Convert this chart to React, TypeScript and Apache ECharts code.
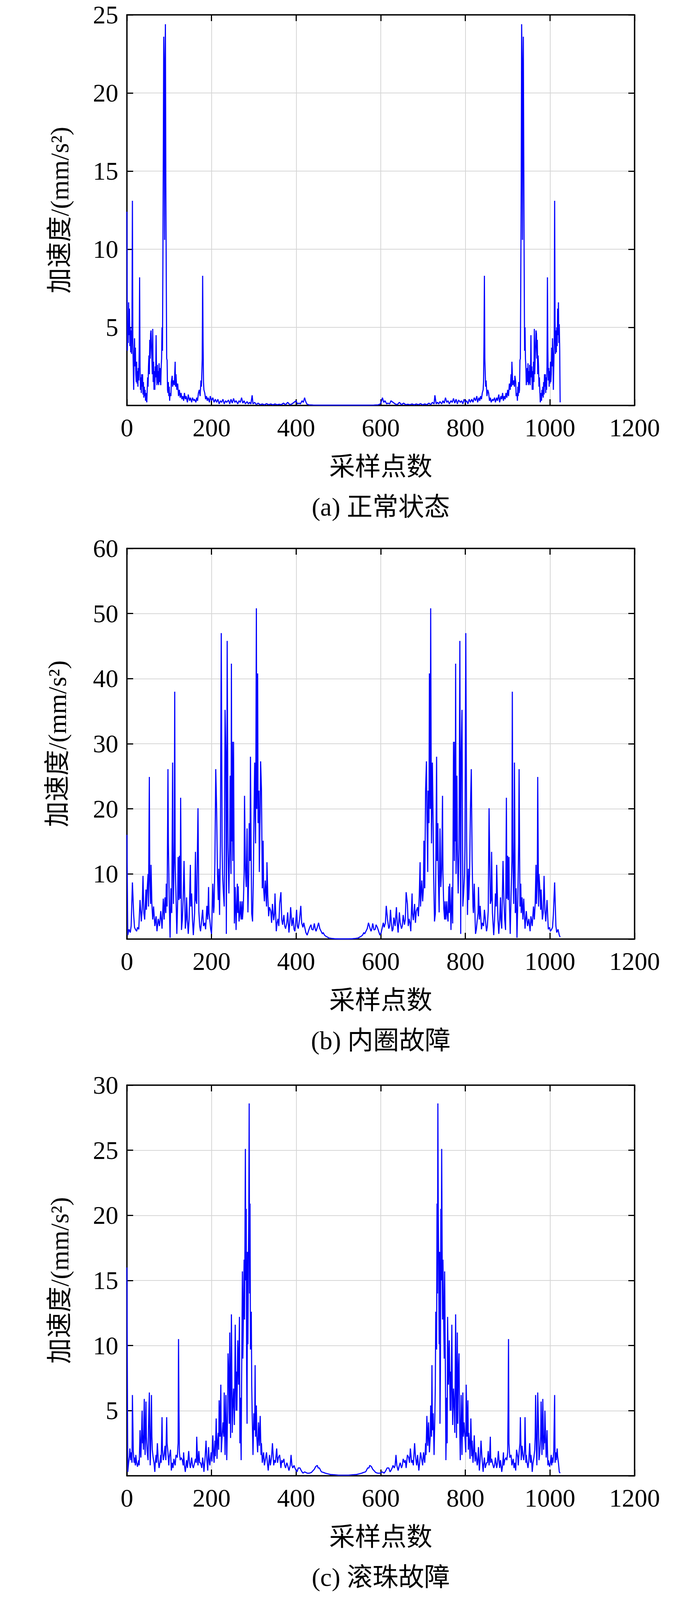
import React, { useEffect, useRef } from 'react';
import * as echarts from 'echarts';

// spectrum magnitude, first half (bin, value); right half is the mirror image
const normalHalf: [number, number][] = [
  [0, 12.4], [1, 3.5], [2, 5.2], [3, 4.0], [4, 6.6], [5, 4.5], [6, 6.2], [7, 3.8], [8, 5.0], [9, 3.4],
  [10, 4.8], [11, 3.3], [12, 5.5], [13, 13.1], [14, 4.0], [15, 2.5], [16, 1.0], [17, 3.0], [18, 4.3], [19, 2.5],
  [20, 3.7], [21, 2.0], [22, 1.5], [23, 2.8], [24, 1.4], [25, 2.2], [26, 1.2], [27, 2.4], [28, 1.6], [29, 3.5],
  [30, 8.2], [31, 2.5], [32, 1.0], [33, 1.8], [34, 0.8], [35, 2.0], [36, 1.2], [37, 2.0], [38, 0.7], [39, 1.5],
  [40, 0.5], [41, 1.2], [42, 0.6], [43, 1.0], [44, 0.3], [45, 0.8], [46, 0.4], [47, 0.2], [48, 1.0], [49, 1.8],
  [50, 1.2], [51, 2.5], [52, 3.2], [53, 2.0], [54, 4.2], [55, 3.0], [56, 4.6], [57, 4.8], [58, 3.8], [59, 3.0],
  [60, 2.0], [61, 4.9], [62, 1.5], [63, 2.8], [64, 1.0], [65, 2.2], [66, 1.0], [67, 2.5], [68, 1.8], [69, 4.5],
  [70, 2.0], [71, 1.3], [72, 2.6], [73, 1.4], [74, 2.2], [75, 1.3], [76, 2.7], [77, 1.5], [78, 2.4], [79, 1.6],
  [80, 1.3], [81, 2.5], [82, 3.0], [83, 5.0], [84, 3.5], [85, 8.9], [86, 16.0], [87, 23.6], [88, 20.0], [89, 10.6],
  [90, 22.0], [91, 24.4], [92, 14.0], [93, 8.2], [94, 3.0], [95, 2.9], [96, 1.0], [97, 0.8], [98, 1.5], [99, 0.6],
  [100, 1.2], [101, 0.3], [102, 0.8], [104, 0.6], [105, 1.5], [107, 1.9], [108, 1.2], [110, 1.6], [112, 1.3], [114, 2.8],
  [115, 1.2], [116, 2.0], [118, 1.0], [120, 1.4], [122, 0.6], [124, 1.0], [126, 0.5], [128, 0.8], [130, 0.4], [132, 0.6],
  [134, 0.3], [136, 0.8], [138, 0.4], [140, 0.6], [143, 0.2], [145, 0.7], [148, 0.3], [150, 0.5], [153, 0.2], [155, 0.5],
  [158, 0.3], [160, 0.4], [163, 0.2], [165, 0.5], [167, 0.3], [169, 0.8], [171, 1.0], [173, 0.6], [175, 1.6], [176, 1.2],
  [177, 2.0], [178, 3.0], [179, 8.3], [180, 4.0], [181, 1.5], [182, 1.0], [184, 0.8], [186, 0.4], [188, 0.6], [190, 0.3],
  [192, 0.5], [195, 0.2], [197, 0.6], [200, 0.3], [203, 0.5], [206, 0.2], [209, 0.4], [212, 0.2], [215, 0.4], [218, 0.1],
  [221, 0.3], [224, 0.2], [227, 0.4], [230, 0.1], [233, 0.3], [236, 0.2], [240, 0.35], [243, 0.1], [246, 0.4], [249, 0.15],
  [252, 0.45], [255, 0.2], [258, 0.3], [262, 0.1], [265, 0.3], [268, 0.2], [271, 0.5], [274, 0.15], [277, 0.3], [280, 0.1],
  [284, 0.25], [287, 0.1], [290, 0.2], [293, 0.1], [296, 0.65], [298, 0.1], [302, 0.2], [306, 0.05], [310, 0.15], [315, 0.05],
  [320, 0.1], [325, 0.04], [330, 0.12], [335, 0.05], [340, 0.1], [345, 0.04], [350, 0.1], [355, 0.05], [360, 0.08], [365, 0.05],
  [370, 0.15], [375, 0.05], [380, 0.2], [385, 0.05], [390, 0.1], [395, 0.2], [400, 0.3], [403, 0.1], [407, 0.15], [410, 0.1],
  [414, 0.3], [417, 0.2], [420, 0.5], [422, 0.3], [425, 0.1], [430, 0.04], [440, 0.03], [460, 0.02], [480, 0.02], [500, 0.02],
  [512, 0.02],
];

const innerHalf: [number, number][] = [
  [0, 16], [2, 0.6], [5, 1.5], [8, 1.0], [10, 2.0], [13, 8.7], [16, 3.7], [18, 1.8], [20, 1.5], [23, 1.2],
  [25, 1.8], [28, 1.5], [31, 6.0], [34, 2.7], [36, 4.5], [38, 9.7], [40, 4.0], [42, 3.0], [45, 7.6], [46, 4.5],
  [48, 7.8], [50, 10.0], [51, 5.0], [53, 24.9], [54, 9.0], [56, 5.4], [57, 11.4], [59, 5.4], [61, 3.0], [63, 5.0],
  [66, 2.0], [69, 3.5], [71, 1.2], [74, 3.1], [77, 2.0], [80, 4.3], [83, 1.6], [86, 6.2], [88, 3.0], [90, 6.4],
  [92, 4.0], [93, 8.5], [95, 5.0], [97, 26.1], [98, 14.7], [100, 6.0], [102, 0.2], [104, 7.8], [106, 4.0], [108, 27.1],
  [109, 12.0], [110, 5.4], [112, 15.0], [113, 38.0], [114, 12.0], [116, 6.6], [118, 0.8], [120, 6.0], [121, 12.6], [123, 6.0],
  [124, 12.8], [126, 6.2], [127, 21.7], [129, 1.4], [131, 3.0], [133, 6.2], [135, 12.0], [138, 1.6], [140, 3.0], [141, 6.4],
  [143, 3.0], [145, 0.8], [147, 3.0], [150, 11.4], [151, 5.0], [153, 7.0], [155, 3.0], [157, 0.6], [160, 4.0], [162, 13.4],
  [163, 6.0], [165, 5.4], [168, 20.1], [170, 4.3], [172, 2.0], [174, 1.2], [176, 2.5], [179, 4.5], [181, 2.0], [184, 2.5],
  [186, 1.5], [189, 5.1], [191, 3.0], [193, 8.0], [194, 4.0], [196, 2.9], [198, 1.5], [200, 0.8], [201, 3.0], [203, 8.5],
  [205, 4.0], [206, 5.0], [208, 12.0], [210, 26.1], [212, 20.1], [214, 10.0], [216, 6.0], [217, 10.8], [219, 3.7], [221, 15.0],
  [223, 47.0], [225, 14.3], [226, 10.0], [228, 7.2], [230, 5.0], [232, 35.2], [234, 27.8], [235, 0.8], [236, 20.0], [237, 45.8],
  [239, 14.0], [241, 7.0], [243, 15.0], [244, 25.1], [246, 10.0], [247, 42.3], [248, 15.0], [249, 30.3], [250, 12.0], [252, 30.3],
  [254, 2.4], [256, 8.0], [258, 1.4], [259, 4.0], [261, 8.5], [262, 4.0], [263, 8.1], [265, 2.7], [267, 4.0], [268, 5.8],
  [270, 3.0], [272, 5.8], [273, 3.0], [275, 4.7], [277, 10.0], [278, 22.0], [280, 10.8], [282, 8.0], [284, 17.0], [286, 4.1],
  [288, 10.0], [289, 17.8], [291, 12.0], [292, 28.0], [294, 10.0], [295, 3.9], [297, 2.7], [299, 10.0], [300, 17.0], [302, 27.1],
  [304, 14.7], [305, 30.0], [306, 50.8], [307, 20.0], [309, 40.8], [310, 17.8], [312, 22.8], [313, 10.3], [315, 20.0], [316, 27.3],
  [318, 23.0], [320, 7.8], [322, 15.1], [323, 8.0], [325, 5.8], [327, 9.0], [328, 7.8], [330, 5.0], [331, 11.8], [333, 6.6],
  [335, 3.5], [337, 4.9], [340, 4.3], [342, 2.5], [344, 5.4], [347, 2.9], [349, 4.0], [350, 7.0], [353, 1.2], [355, 2.5],
  [357, 3.1], [359, 2.0], [361, 5.4], [364, 7.2], [366, 3.0], [368, 2.2], [371, 3.7], [373, 2.0], [375, 1.6], [378, 2.5],
  [380, 4.1], [383, 1.0], [385, 2.5], [387, 4.9], [390, 2.0], [393, 3.3], [395, 1.5], [397, 1.2], [399, 2.5], [401, 4.5],
  [403, 2.0], [405, 1.6], [408, 3.0], [411, 5.1], [413, 2.5], [416, 1.8], [418, 2.5], [421, 1.6], [423, 1.0], [426, 0.6],
  [429, 1.2], [432, 1.8], [435, 2.2], [437, 1.5], [440, 1.4], [443, 2.4], [445, 1.6], [447, 1.2], [450, 1.8], [453, 2.5],
  [456, 1.6], [459, 1.2], [462, 0.8], [464, 1.0], [467, 0.6], [471, 0.4], [474, 0.3], [478, 0.15], [484, 0.1], [491, 0.05],
  [500, 0.03], [512, 0.02],
];

const ballHalf: [number, number][] = [
  [0, 16], [2, 0.3], [4, 1.0], [6, 1.5], [7, 2.1], [9, 1.2], [10, 1.8], [12, 1.0], [13, 6.2], [15, 1.9],
  [17, 1.0], [18, 1.4], [20, 0.8], [21, 1.6], [23, 1.0], [25, 0.7], [28, 1.2], [29, 0.8], [31, 3.5], [32, 2.0],
  [33, 1.4], [34, 2.5], [36, 5.0], [37, 2.5], [38, 3.1], [39, 2.0], [41, 5.9], [42, 3.0], [43, 1.6], [45, 5.7],
  [46, 3.0], [48, 1.8], [50, 1.2], [51, 3.5], [53, 6.4], [54, 3.0], [55, 0.8], [56, 2.0], [58, 6.2], [59, 3.0],
  [60, 2.0], [62, 1.4], [64, 1.0], [66, 0.3], [67, 1.0], [69, 1.6], [70, 1.0], [72, 2.5], [74, 1.2], [76, 0.6],
  [78, 1.0], [80, 1.6], [81, 1.0], [83, 4.5], [84, 2.0], [86, 1.2], [88, 1.6], [90, 2.3], [92, 1.2], [94, 4.5],
  [95, 2.5], [97, 1.8], [99, 0.8], [100, 1.4], [103, 2.0], [105, 0.4], [107, 1.0], [109, 0.6], [111, 1.3], [114, 0.8],
  [116, 1.6], [119, 1.4], [121, 2.5], [122, 10.5], [123, 5.0], [124, 1.8], [126, 1.2], [128, 1.4], [131, 1.2], [133, 0.8],
  [134, 1.8], [136, 0.8], [138, 0.3], [141, 1.2], [143, 0.6], [146, 1.9], [148, 1.0], [150, 0.6], [153, 1.4], [155, 0.8],
  [157, 0.6], [160, 1.0], [162, 1.3], [164, 1.0], [165, 3.0], [167, 1.2], [168, 0.8], [170, 1.9], [172, 1.0], [174, 1.0],
  [177, 0.6], [179, 1.4], [181, 0.8], [182, 0.3], [185, 1.5], [187, 2.7], [189, 1.2], [191, 0.4], [193, 2.2], [195, 1.0],
  [196, 0.8], [199, 1.8], [201, 1.1], [203, 3.1], [205, 1.5], [206, 1.0], [208, 2.7], [209, 1.5], [211, 4.4], [213, 1.3],
  [214, 2.5], [216, 3.3], [217, 2.0], [218, 5.8], [220, 3.0], [222, 7.0], [223, 1.8], [225, 3.0], [227, 4.1], [229, 3.0],
  [230, 6.4], [232, 1.6], [234, 6.2], [235, 4.0], [236, 1.2], [238, 5.0], [239, 9.4], [241, 7.3], [242, 4.0], [243, 11.0],
  [245, 2.9], [247, 12.4], [249, 3.3], [250, 5.0], [252, 6.7], [254, 3.9], [255, 7.0], [256, 11.6], [258, 5.0], [259, 8.0],
  [260, 5.0], [262, 10.4], [264, 7.0], [266, 12.2], [267, 2.5], [268, 6.0], [270, 1.2], [271, 7.0], [273, 15.7], [274, 9.0],
  [276, 13.9], [277, 16.6], [278, 12.0], [279, 18.0], [280, 25.1], [281, 15.0], [282, 20.5], [283, 8.0], [284, 4.0], [285, 17.2],
  [286, 10.1], [287, 16.0], [288, 20.0], [289, 28.6], [290, 14.0], [291, 20.9], [292, 9.7], [293, 11.0], [294, 12.6], [295, 7.0],
  [296, 4.8], [298, 1.6], [300, 4.8], [302, 3.5], [303, 8.5], [304, 3.0], [306, 5.4], [307, 3.0], [309, 1.8], [311, 4.1],
  [313, 2.3], [315, 4.6], [317, 1.6], [318, 2.5], [320, 1.0], [323, 1.8], [325, 0.8], [327, 1.2], [330, 1.8], [332, 1.0],
  [334, 0.4], [337, 1.6], [339, 0.8], [340, 1.0], [342, 1.5], [344, 2.5], [347, 0.8], [349, 1.2], [351, 1.0], [354, 2.1],
  [356, 1.0], [358, 1.4], [361, 1.6], [364, 0.6], [366, 1.2], [368, 1.0], [371, 1.3], [373, 0.8], [375, 0.6], [378, 1.0],
  [380, 0.8], [383, 0.4], [386, 0.8], [388, 1.6], [390, 0.8], [392, 0.6], [395, 0.8], [397, 0.6], [400, 0.4], [402, 0.3],
  [405, 0.6], [409, 0.6], [412, 0.4], [416, 0.2], [420, 0.3], [426, 0.2], [431, 0.2], [436, 0.25], [440, 0.4], [443, 0.5],
  [446, 0.7], [450, 0.8], [452, 0.6], [455, 0.6], [458, 0.4], [460, 0.3], [465, 0.25], [469, 0.2], [475, 0.15], [481, 0.1],
  [490, 0.08], [500, 0.05], [512, 0.05],
];

const outerHalf: [number, number][] = [
  [0, 34], [2, 1.0], [5, 2.0], [7, 1.5], [10, 2.5], [13, 6.9], [14, 2.0], [16, 1.0], [18, 2.5], [21, 1.5],
  [24, 2.0], [27, 3.5], [29, 1.5], [31, 1.0], [33, 3.0], [35, 9.3], [36, 4.0], [38, 5.9], [40, 3.0], [42, 6.4],
  [44, 10.0], [45, 18.5], [46, 6.0], [47, 4.0], [49, 6.9], [51, 3.5], [53, 5.0], [55, 11.7], [56, 5.9], [58, 8.0],
  [59, 17.0], [60, 7.0], [62, 4.5], [64, 3.5], [66, 2.5], [68, 2.0], [70, 1.5], [73, 1.0], [75, 1.8], [78, 3.0],
  [80, 1.5], [83, 6.9], [85, 2.0], [86, 3.0], [89, 1.5], [92, 4.0], [94, 2.0], [97, 1.5], [100, 2.0], [104, 1.0],
  [107, 2.0], [110, 1.5], [113, 2.0], [116, 3.0], [119, 7.8], [120, 3.0], [122, 3.0], [125, 1.5], [128, 1.5], [130, 2.5],
  [133, 3.0], [135, 1.5], [137, 5.4], [140, 1.5], [143, 2.5], [146, 6.9], [148, 2.5], [150, 2.0], [152, 3.0], [155, 4.5],
  [157, 2.0], [158, 3.5], [160, 2.0], [162, 4.9], [165, 2.0], [167, 2.5], [169, 4.0], [171, 1.5], [174, 0.6], [176, 1.5],
  [179, 1.5], [182, 1.0], [184, 1.0], [186, 2.0], [189, 4.5], [191, 7.1], [193, 3.0], [195, 1.5], [198, 3.0], [200, 2.0],
  [201, 4.5], [203, 3.0], [205, 1.5], [208, 2.5], [210, 6.0], [211, 17.5], [212, 8.0], [213, 13.6], [216, 3.0], [217, 14.6],
  [219, 47.0], [220, 20.0], [221, 36.9], [223, 6.9], [225, 31.0], [227, 12.7], [229, 50.0], [231, 20.4], [233, 6.4], [235, 36.0],
  [236, 19.5], [238, 49.5], [239, 90.0], [240, 40.0], [241, 55.8], [242, 18.5], [244, 35.0], [246, 39.8], [248, 96.4], [249, 50.4],
  [251, 11.7], [253, 25.3], [255, 8.8], [257, 60.0], [258, 21.4], [260, 8.8], [261, 22.4], [263, 11.7], [265, 25.3], [266, 35.4],
  [268, 13.6], [270, 25.3], [271, 3.0], [273, 20.4], [275, 51.4], [277, 36.0], [278, 48.5], [280, 77.5], [282, 17.5], [283, 35.4],
  [285, 116.7], [287, 25.3], [289, 52.4], [290, 87.7], [292, 30.0], [293, 45.0], [295, 146.8], [296, 46.6], [297, 87.2], [298, 33.5],
  [300, 63.0], [301, 35.0], [303, 60.0], [305, 118.7], [306, 47.5], [307, 20.4], [309, 51.4], [311, 18.5], [313, 33.0], [315, 53.3],
  [316, 1.5], [318, 28.2], [320, 21.9], [322, 30.6], [324, 18.5], [326, 25.3], [329, 9.3], [331, 20.9], [333, 5.4], [336, 8.8],
  [338, 9.8], [341, 3.0], [343, 4.5], [345, 2.0], [347, 2.0], [350, 1.5], [352, 2.5], [355, 1.5], [357, 2.0], [360, 1.5],
  [362, 2.5], [364, 3.0], [367, 2.0], [369, 3.0], [371, 3.5], [373, 2.5], [376, 4.0], [378, 3.0], [380, 4.5], [383, 5.4],
  [385, 3.0], [388, 3.0], [390, 2.0], [393, 1.0], [396, 1.5], [400, 1.5], [403, 1.0], [405, 1.0], [407, 2.0], [409, 3.5],
  [411, 1.5], [414, 1.5], [417, 2.5], [419, 3.0], [421, 2.5], [424, 5.4], [426, 3.5], [428, 4.0], [430, 5.0], [431, 6.4],
  [433, 8.0], [435, 9.8], [436, 6.0], [437, 7.8], [438, 12.0], [440, 9.8], [441, 6.0], [443, 11.7], [444, 8.0], [446, 7.8],
  [448, 10.3], [450, 7.0], [452, 9.3], [453, 6.0], [455, 7.8], [457, 4.9], [458, 3.0], [460, 2.5], [463, 2.0], [466, 3.0],
  [468, 1.5], [471, 1.5], [474, 0.8], [478, 0.6], [482, 0.4], [488, 0.3], [495, 0.2], [503, 0.1], [512, 0.1],
];

const halves = [normalHalf, innerHalf, ballHalf, outerHalf];
const tails = [0.2, 0.3, 0.2, 0.5];
const captions = ['(a) 正常状态', '(b) 内圈故障', '(c) 滚珠故障', '(d) 外圈故障'];
const yMaxes = [25, 60, 30, 150];
const yIntervals = [5, 10, 5, 50];
const xMax = 1200;
const xInterval = 200;
const N = 1024;
const xName = '采样点数';
const yName = '加速度/(mm/s²)';

// layout (px)
const gridTops = [38, 1404, 2778, 4151];
const gridLeft = 325;
const gridWidth = 1300;
const gridHeight = 1000;
const yNameGaps = [140, 146, 140, 158];

const NUM_FONT = 'Liberation Serif, DejaVu Serif, serif';
const TEXT_FONT = 'Liberation Serif, DejaVu Serif, Noto Sans CJK SC, serif';

function fullSpectrum(half: [number, number][], tail: number): [number, number][] {
  const right = half
    .filter(([k]) => k > 0 && k < N / 2)
    .map(([k, v]) => [N - k, v] as [number, number])
    .reverse();
  return [...half, ...right, [N, tail]];
}

const App: React.FC = () => {
  const chartRef = useRef<HTMLDivElement>(null);

  useEffect(() => {
    document.body.style.margin = '0';
    const chart = echarts.init(chartRef.current!, undefined, { renderer: 'svg' });

    const grids: any[] = [];
    const xAxes: any[] = [];
    const yAxes: any[] = [];
    const series: any[] = [];
    const graphics: any[] = [];

    const axisLine = { show: true, onZero: false, lineStyle: { color: '#000', width: 3.5 } };
    const tick = { show: true, inside: true, length: 16, lineStyle: { color: '#000', width: 3 } };
    const split = { show: true, lineStyle: { color: '#d6d6d6', width: 2 } };
    const label = { color: '#000', fontSize: 65, fontFamily: NUM_FONT };

    halves.forEach((half, i) => {
      grids.push({ left: gridLeft, top: gridTops[i], width: gridWidth, height: gridHeight });
      xAxes.push({
        type: 'value', gridIndex: i, min: 0, max: xMax, interval: xInterval, position: 'bottom',
        axisLine, axisTick: tick, splitLine: split,
        axisLabel: { ...label, margin: 24, formatter: (v: number) => String(v) },
        name: xName, nameLocation: 'middle', nameGap: 123,
        nameTextStyle: { color: '#000', fontSize: 66, fontFamily: TEXT_FONT },
      });
      xAxes.push({
        type: 'value', gridIndex: i, min: 0, max: xMax, interval: xInterval, position: 'top',
        axisLine, axisTick: tick, splitLine: { show: false }, axisLabel: { show: false },
      });
      yAxes.push({
        type: 'value', gridIndex: i, min: 0, max: yMaxes[i], interval: yIntervals[i], position: 'left',
        axisLine, axisTick: tick, splitLine: split,
        axisLabel: { ...label, margin: 22, showMinLabel: false, formatter: (v: number) => String(v) },
        name: yName, nameLocation: 'middle', nameGap: yNameGaps[i],
        nameTextStyle: { color: '#000', fontSize: 66, fontFamily: TEXT_FONT },
      });
      yAxes.push({
        type: 'value', gridIndex: i, min: 0, max: yMaxes[i], interval: yIntervals[i], position: 'right',
        axisLine, axisTick: tick, splitLine: { show: false }, axisLabel: { show: false },
      });
      series.push({
        type: 'line', xAxisIndex: 2 * i, yAxisIndex: 2 * i,
        data: fullSpectrum(half, tails[i]),
        showSymbol: false, symbol: 'none',
        lineStyle: { color: '#0000ff', width: 2.8 },
        z: 1,
      });
      graphics.push({
        type: 'text',
        x: gridLeft + gridWidth / 2,
        y: gridTops[i] + gridHeight + 259,
        style: {
          text: captions[i], fill: '#000', font: `66px ${TEXT_FONT}`,
          textAlign: 'center', textVerticalAlign: 'middle',
        },
      });
    });

    chart.setOption({
      animation: false,
      backgroundColor: '#fff',
      grid: grids,
      xAxis: xAxes,
      yAxis: yAxes,
      series,
      graphic: graphics,
    });

    return () => {
      chart.dispose();
    };
  }, []);

  return <div ref={chartRef} style={{ width: '1772px', height: '5453px' }} />;
};

export default App;
